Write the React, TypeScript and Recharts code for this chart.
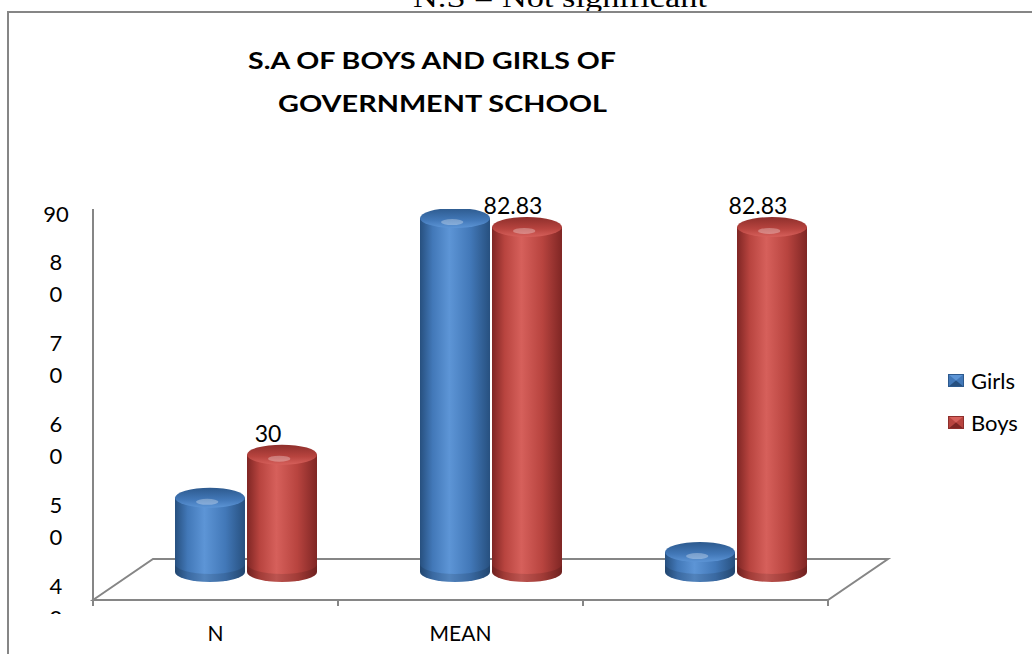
import React from 'react';
import { BarChart, Bar, XAxis, YAxis, LabelList, ReferenceArea } from 'recharts';

const CATEGORIES = ['N', 'MEAN', ''];
const GIRLS = [20, 84.9, 7.4];
const BOYS = [30, 82.83, 82.83];
const Y_TICKS = [40, 50, 60, 70, 80, 90];
const Y_TICK_LABELS = ['4\n0', '5\n0', '6\n0', '7\n0', '8\n0', '90'];

const data = CATEGORIES.map((name, i) => ({ name, girls: GIRLS[i], boys: BOYS[i] }));

const W = 1032;
const H = 654;
const MARGIN = { top: 209, right: 204, bottom: 0, left: 33 };
const CAT_AXIS_H = 54;
const PLOT_BOTTOM = H - MARGIN.bottom - CAT_AXIS_H;
const DEPTH_X = 60;
const DEPTH_Y = 41;
const CAP_RY = 10;
const AXIS_GRAY = '#868686';
const FONT = 'Lato, "Open Sans", sans-serif';

const SERIES = [
  { key: 'girls', name: 'Girls', tone: 'blue' },
  { key: 'boys', name: 'Boys', tone: 'red' },
];

const TONES: Record<string, { dark: string; mid: string; light: string; edge: string }> = {
  blue: { dark: '#27507f', mid: '#4278b8', light: '#5d95d6', edge: '#2d5a8e' },
  red: { dark: '#7f2624', mid: '#b8443f', light: '#d6605b', edge: '#8e2f2c' },
};

// one cylinder, pushed back to the middle of the floor depth
const Cylinder = (props: any) => {
  const { x, y, width, height, tone } = props;
  if (width == null || y == null) return null;
  const rx = width / 2;
  const cx = x + rx + DEPTH_X / 2;
  const x0 = cx - rx;
  const x1 = cx + rx;
  const yt = y;
  const yb = Math.max(yt, y + height - 12);
  return (
    <g>
      <path
        d={`M${x0},${yt} L${x0},${yb} A${rx},${CAP_RY} 0 0 0 ${x1},${yb} L${x1},${yt} Z`}
        fill={`url(#body-${tone})`}
      />
      <path
        d={`M${x0},${yb - 8} A${rx},${CAP_RY} 0 0 0 ${x1},${yb - 8} L${x1},${yb} A${rx},${CAP_RY} 0 0 1 ${x0},${yb} Z`}
        fill="#000"
        opacity={0.12}
      />
      <ellipse cx={cx} cy={yt} rx={rx} ry={CAP_RY} fill={`url(#cap-${tone})`} />
      <ellipse cx={cx - rx * 0.08} cy={yt + 4} rx={rx * 0.32} ry={3} fill="#fff" opacity={0.3} />
    </g>
  );
};

// floor of the 3d plot plus the tick marks between categories
const Floor = (props: any) => {
  const { x, y, width, height } = props;
  const front = y + height;
  const back = front - DEPTH_Y;
  const step = width / CATEGORIES.length;
  return (
    <g>
      <polygon
        points={`${x},${front} ${x + DEPTH_X},${back} ${x + width + DEPTH_X},${back} ${x + width},${front}`}
        fill="#fff"
        stroke={AXIS_GRAY}
        strokeWidth={2}
      />
      {Array.from({ length: CATEGORIES.length + 1 }, (_, i) => (
        <line key={i} x1={x + i * step} y1={front} x2={x + i * step} y2={front + 6} stroke={AXIS_GRAY} strokeWidth={2} />
      ))}
    </g>
  );
};

const YTick = (props: any) => {
  const { x, y, index } = props;
  const lines = Y_TICK_LABELS[index].split('\n');
  const n = lines.length;
  return (
    <g>
      <defs>
        <clipPath id={`yclip-${index}`}>
          <rect x={0} y={0} width={x} height={PLOT_BOTTOM + 14} />
        </clipPath>
      </defs>
      <g clipPath={`url(#yclip-${index})`}>
        {lines.map((t: string, i: number) => (
          <text
            key={i}
            x={x - 37}
            y={y - (n - 1 - i) * 32}
            textAnchor="middle"
            dominantBaseline="central"
            fontFamily={FONT}
            fontSize={22}
            fill="#000"
          >
            {t}
          </text>
        ))}
      </g>
    </g>
  );
};

const CatTick = (props: any) => {
  const { x, y, payload } = props;
  return (
    <text x={x} y={y + 32} textAnchor="middle" dominantBaseline="central" fontFamily={FONT} fontSize={21} fill="#000">
      {payload.value}
    </text>
  );
};

const BoysLabel = (props: any) => {
  const { x, y, width, value } = props;
  return (
    <text
      x={x + width / 2 + DEPTH_X / 2 - 14}
      y={y - CAP_RY - 12}
      textAnchor="middle"
      dominantBaseline="central"
      fontFamily={FONT}
      fontSize={23}
      fill="#000"
    >
      {value}
    </text>
  );
};

const LegendBox = () => (
  <div style={{ position: 'absolute', left: 948, top: 359, fontFamily: FONT, fontSize: 22, color: '#000' }}>
    {SERIES.map((s) => {
      const c = TONES[s.tone];
      return (
        <div key={s.key} style={{ display: 'flex', alignItems: 'center', height: 42 }}>
          <svg width={16} height={13} style={{ marginRight: 7 }}>
            <rect x={0} y={0} width={16} height={13} fill={c.mid} />
            <polygon points="0,0 16,0 8,6.5" fill={c.light} />
            <polygon points="0,13 16,13 8,6.5" fill={c.dark} />
            <rect x={0.5} y={0.5} width={15} height={12} fill="none" stroke={c.edge} />
          </svg>
          <span>{s.name}</span>
        </div>
      );
    })}
  </div>
);

const Backdrop = () => (
  <svg width={W} height={H} style={{ position: 'absolute', left: 0, top: 0 }}>
    <defs>
      {Object.entries(TONES).map(([k, c]) => (
        <React.Fragment key={k}>
          <linearGradient id={`body-${k}`} x1="0" y1="0" x2="1" y2="0">
            <stop offset="0%" stopColor={c.dark} />
            <stop offset="18%" stopColor={c.mid} />
            <stop offset="42%" stopColor={c.light} />
            <stop offset="72%" stopColor={c.mid} />
            <stop offset="100%" stopColor={c.dark} />
          </linearGradient>
          <linearGradient id={`cap-${k}`} x1="0" y1="0" x2="0" y2="1">
            <stop offset="0%" stopColor={c.edge} />
            <stop offset="60%" stopColor={c.mid} />
            <stop offset="100%" stopColor={c.light} />
          </linearGradient>
        </React.Fragment>
      ))}
    </defs>
    <text x={413} y={7} fontFamily='"Liberation Serif", "Times New Roman", serif' fontSize={28} textLength={294} lengthAdjust="spacingAndGlyphs">
      N.S = Not significant
    </text>
    <rect x={8} y={12} width={W + 20} height={H + 20} fill="none" stroke={AXIS_GRAY} strokeWidth={2} />
    <text x={248} y={69} fontFamily={FONT} fontWeight={700} fontSize={23} textLength={368} lengthAdjust="spacingAndGlyphs">
      S.A OF BOYS AND GIRLS OF
    </text>
    <text x={278} y={112} fontFamily={FONT} fontWeight={700} fontSize={23} textLength={329} lengthAdjust="spacingAndGlyphs">
      GOVERNMENT SCHOOL
    </text>
  </svg>
);

export default function App() {
  return (
    <div style={{ position: 'absolute', left: 0, top: 0, width: W, height: H, background: '#fff', overflow: 'hidden' }}>
      <Backdrop />
      <div style={{ position: 'absolute', left: 0, top: 0 }}>
        <BarChart width={W} height={H} data={data} margin={MARGIN} barGap={2} barSize={70}>
          <XAxis
            xAxisId="cat"
            dataKey="name"
            height={CAT_AXIS_H}
            axisLine={{ stroke: AXIS_GRAY, strokeWidth: 2 }}
            tickLine={false}
            tickSize={0}
            tickMargin={0}
            interval={0}
            tick={<CatTick />}
          />
          <YAxis
            yAxisId="lbl"
            type="number"
            domain={[40, 90.5]}
            ticks={Y_TICKS}
            allowDataOverflow
            padding={{ top: 0, bottom: -17 }}
            width={60}
            interval={0}
            axisLine={{ stroke: AXIS_GRAY, strokeWidth: 2 }}
            tickLine={false}
            tickSize={0}
            tickMargin={0}
            tick={<YTick />}
          />
          <YAxis yAxisId="v" hide type="number" domain={[0, 87]} allowDataOverflow padding={{ top: 0, bottom: 16 }} />
          <YAxis yAxisId="plot" hide type="number" domain={[0, 1]} allowDataOverflow />
          <ReferenceArea xAxisId="cat" yAxisId="plot" shape={<Floor />} ifOverflow="visible" />
          {SERIES.map((s) => (
            <Bar
              key={s.key}
              xAxisId="cat"
              yAxisId="v"
              dataKey={s.key}
              name={s.name}
              fill={TONES[s.tone].mid}
              isAnimationActive={false}
              shape={(p: any) => <Cylinder {...p} tone={s.tone} />}
            >
              {s.key === 'boys' && <LabelList dataKey="boys" content={<BoysLabel />} />}
            </Bar>
          ))}
        </BarChart>
      </div>
      <LegendBox />
    </div>
  );
}
